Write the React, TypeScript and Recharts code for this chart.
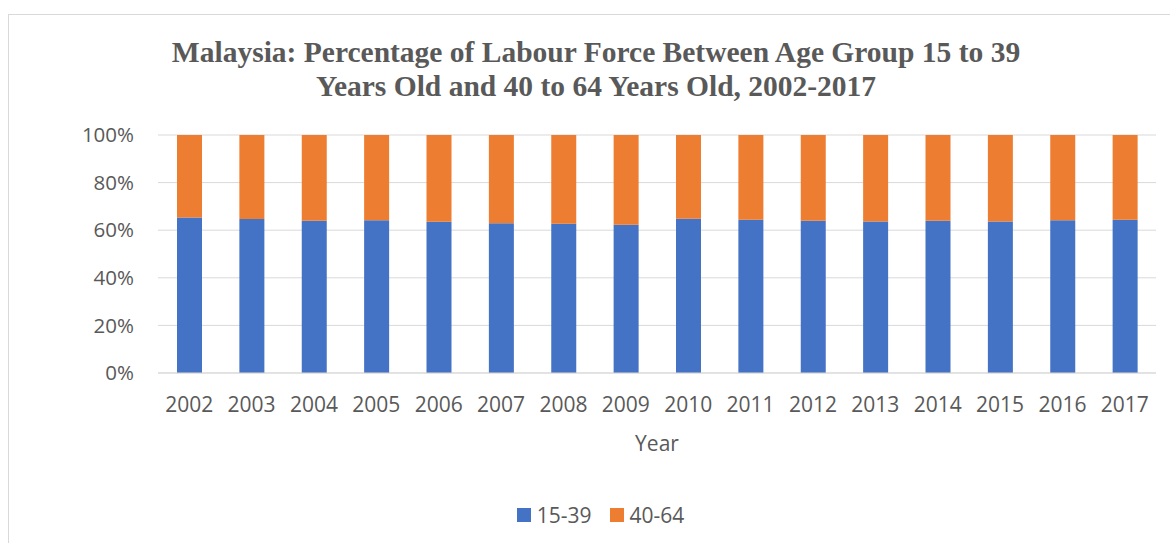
import React from "react";
import {
  BarChart,
  Bar,
  XAxis,
  YAxis,
  CartesianGrid,
  Legend,
} from "recharts";

const years = [
  "2002", "2003", "2004", "2005", "2006", "2007", "2008", "2009",
  "2010", "2011", "2012", "2013", "2014", "2015", "2016", "2017",
];
const age15to39 = [
  65.3, 64.7, 64.0, 64.2, 63.6, 62.9, 62.7, 62.3,
  64.8, 64.4, 64.0, 63.7, 64.0, 63.7, 64.2, 64.4,
];
const age40to64 = [
  34.7, 35.3, 36.0, 35.8, 36.4, 37.1, 37.3, 37.7,
  35.2, 35.6, 36.0, 36.3, 36.0, 36.3, 35.8, 35.6,
];
const yTicks = [0, 20, 40, 60, 80, 100];

const data = years.map((year, i) => ({
  year,
  "15-39": age15to39[i],
  "40-64": age40to64[i],
}));

const TEXT = "#595959";
const FONT = "'Open Sans', sans-serif";

const renderLegend = (props: any) => {
  const { payload } = props;
  return (
    <div style={{ display: "flex", justifyContent: "center", fontFamily: FONT, fontSize: 21, color: TEXT }}>
      {(payload || []).map((entry: any, i: number) => (
        <div
          key={entry.value}
          style={{ display: "flex", alignItems: "center", marginLeft: i > 0 ? 18 : 0 }}
        >
          <span style={{ width: 14, height: 14, background: entry.color, marginRight: 6 }} />
          <span>{entry.value}</span>
        </div>
      ))}
    </div>
  );
};

const App: React.FC = () => {
  return (
    <div
      style={{
        position: "relative",
        width: 1170,
        height: 543,
        overflow: "hidden",
        background: "#fff",
      }}
    >
      <style>{`body{margin:0;overflow:hidden;}`}</style>
      <div
        style={{
          position: "absolute",
          left: 8,
          top: 14,
          width: 1200,
          height: 600,
          border: "1px solid #d9d9d9",
        }}
      />
      <div
        style={{
          position: "absolute",
          left: 0,
          top: 35,
          width: 1192,
          textAlign: "center",
          fontFamily: "'Liberation Serif', serif",
          fontWeight: "bold",
          fontSize: 29.5,
          lineHeight: "34px",
          color: TEXT,
        }}
      >
        Malaysia: Percentage of Labour Force Between Age Group 15 to 39
        <br />
        Years Old and 40 to 64 Years Old, 2002-2017
      </div>
      <div style={{ position: "absolute", left: 0, top: 0 }}>
        <BarChart
          width={1170}
          height={543}
          data={data}
          margin={{ top: 135, right: 14, left: 0, bottom: 0 }}
          barSize={25}
        >
          <CartesianGrid vertical={false} stroke="#d9d9d9" />
          <XAxis
            dataKey="year"
            height={170}
            tickLine={false}
            tickSize={0}
            tickMargin={24}
            axisLine={{ stroke: "#d9d9d9" }}
            tick={{ fill: TEXT, fontSize: 21, fontFamily: FONT }}
            label={{
              value: "Year",
              position: "insideTop",
              offset: 63,
              fill: TEXT,
              fontSize: 21,
              fontFamily: FONT,
            }}
          />
          <YAxis
            width={158}
            domain={[0, 100]}
            ticks={yTicks}
            tickFormatter={(v: number) => `${v}%`}
            tickLine={false}
            axisLine={false}
            tickSize={0}
            tickMargin={24}
            tick={{ fill: TEXT, fontSize: 20.5, fontFamily: FONT }}
          />
          <Legend
            layout="horizontal"
            verticalAlign="middle"
            align="center"
            content={renderLegend}
            wrapperStyle={{ top: 501, left: 300, width: 601 }}
          />
          <Bar
            dataKey="15-39"
            stackId="a"
            fill="#4472c4"
            isAnimationActive={false}
          />
          <Bar
            dataKey="40-64"
            stackId="a"
            fill="#ed7d31"
            isAnimationActive={false}
          />
        </BarChart>
      </div>
    </div>
  );
};

export default App;
